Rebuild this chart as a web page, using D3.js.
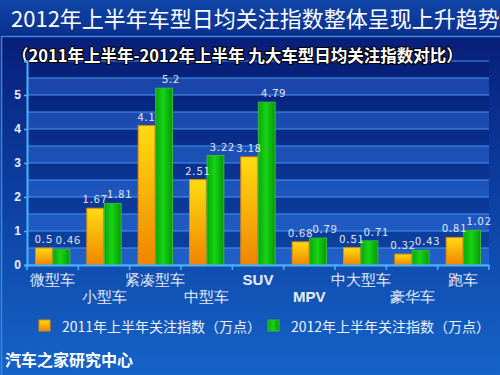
<!DOCTYPE html>
<html>
<head>
<meta charset="utf-8">
<script src="https://cdn.jsdelivr.net/npm/d3@7"></script>
<style>
    body { margin: 0; padding: 0; background: #0c3594; }
    svg { display: block; font-family: "Noto Sans CJK SC", "Noto Sans", sans-serif; }
</style>
</head>
<body>
<div id="chart"></div>
<script>
// chart data
var categories = ["微型车", "小型车", "紧凑型车", "中型车", "SUV", "MPV", "中大型车", "豪华车", "跑车"];
var values2011 = [0.5, 1.67, 4.1, 2.51, 3.18, 0.68, 0.51, 0.32, 0.81];
var values2012 = [0.46, 1.81, 5.2, 3.22, 4.79, 0.79, 0.71, 0.43, 1.02];
var seriesNames = ["2011年上半年关注指数（万点）", "2012年上半年关注指数（万点）"];
var yTicks = [0, 1, 2, 3, 4, 5];
var gridValues = d3.range(0, 6.5, 0.5);

BarChart = function(_parentElement) {
    this.parentElement = _parentElement;
    this.initVis();
}

BarChart.prototype.initVis = function() {
    var vis = this;

    vis.width = 500;
    vis.height = 375;
    vis.plot = { left: 27, right: 489, top: 61, bottom: 265 };

    vis.svg = d3.select("#" + vis.parentElement).append("svg")
        .attr("width", vis.width)
        .attr("height", vis.height);

    var defs = vis.svg.append("defs");

    var bg = defs.append("linearGradient").attr("id", "bg")
        .attr("x1", 0).attr("y1", 0).attr("x2", 0).attr("y2", 1);
    bg.append("stop").attr("offset", "0%").attr("stop-color", "#071770");
    bg.append("stop").attr("offset", "45%").attr("stop-color", "#0b3a9c");
    bg.append("stop").attr("offset", "100%").attr("stop-color", "#1664c8");

    var head = defs.append("linearGradient").attr("id", "head")
        .attr("x1", 0).attr("y1", 0).attr("x2", 0).attr("y2", 1);
    head.append("stop").attr("offset", "0%").attr("stop-color", "#1046a8");
    head.append("stop").attr("offset", "100%").attr("stop-color", "#0a2f8c");

    var orange = defs.append("linearGradient").attr("id", "orange")
        .attr("x1", 0).attr("y1", 0).attr("x2", 0).attr("y2", 1);
    orange.append("stop").attr("offset", "0%").attr("stop-color", "#ffdc10");
    orange.append("stop").attr("offset", "100%").attr("stop-color", "#f08400");

    var green = defs.append("linearGradient").attr("id", "green")
        .attr("x1", 0).attr("y1", 0).attr("x2", 1).attr("y2", 0);
    green.append("stop").attr("offset", "0%").attr("stop-color", "#08a808");
    green.append("stop").attr("offset", "45%").attr("stop-color", "#16d416");
    green.append("stop").attr("offset", "100%").attr("stop-color", "#069806");

    // backgrounds
    vis.svg.append("rect")
        .attr("width", vis.width).attr("height", vis.height)
        .attr("fill", "url(#bg)");
    vis.svg.append("rect")
        .attr("width", vis.width).attr("height", 36)
        .attr("fill", "url(#head)");
    vis.svg.append("path")
        .attr("d", "M1.5,375 V36.5 H500")
        .attr("fill", "none")
        .attr("stroke", "#3a86e0")
        .attr("stroke-width", 1.5);

    // scales
    vis.x = d3.scaleBand()
        .domain(categories)
        .range([vis.plot.left, vis.plot.right]);
    vis.xSub = d3.scaleBand()
        .domain([0, 1])
        .range([8.5, vis.x.bandwidth() - 8.5])
        .paddingInner(0.04);
    vis.y = d3.scaleLinear()
        .domain([0, 6])
        .range([vis.plot.bottom, vis.plot.top]);

    // alternating bands and grid lines
    var bands = d3.range(0, 6, 0.5);
    vis.svg.append("g").selectAll("rect")
        .data(bands)
        .enter().append("rect")
        .attr("x", vis.plot.left)
        .attr("width", vis.plot.right - vis.plot.left)
        .attr("y", function(d) { return vis.y(d + 0.5); })
        .attr("height", function(d) { return vis.y(d) - vis.y(d + 0.5); })
        .attr("fill", function(d) { return d % 1 === 0 ? "rgba(70,140,255,0.3)" : "rgba(0,10,80,0.14)"; });

    vis.svg.append("g").selectAll("line")
        .data(gridValues)
        .enter().append("line")
        .attr("x1", vis.plot.left)
        .attr("x2", vis.plot.right)
        .attr("y1", function(d) { return vis.y(d); })
        .attr("y2", function(d) { return vis.y(d); })
        .attr("stroke", "#4a94ec")
        .attr("stroke-width", 1.2);

    // titles
    vis.svg.append("text")
        .attr("x", 11)
        .attr("y", 27)
        .attr("fill", "#ffffff")
        .style("font-size", "22px")
        .text("2012年上半年车型日均关注指数整体呈现上升趋势");

    vis.svg.append("text")
        .attr("x", 12)
        .attr("y", 62)
        .attr("fill", "#ffffff")
        .attr("stroke", "#000000")
        .attr("stroke-width", 2.2)
        .attr("paint-order", "stroke")
        .style("font-size", "16.5px")
        .style("font-weight", "bold")
        .text("（2011年上半年-2012年上半年 九大车型日均关注指数对比）");

    vis.updateVis();
}

BarChart.prototype.updateVis = function() {
    var vis = this;

    var rows = categories.map(function(c, i) {
        return { key: c, values: [values2011[i], values2012[i]] };
    });

    var groups = vis.svg.append("g").selectAll("g")
        .data(rows)
        .enter().append("g")
        .attr("transform", function(d) { return "translate(" + vis.x(d.key) + ",0)"; });

    var fills = ["url(#orange)", "url(#green)"];
    var strokes = ["#e08a10", "#3cb83c"];

    groups.selectAll("rect")
        .data(function(d) { return d.values; })
        .enter().append("rect")
        .attr("x", function(d, i) { return vis.xSub(i); })
        .attr("width", vis.xSub.bandwidth())
        .attr("y", function(d) { return vis.y(d); })
        .attr("height", function(d) { return vis.y(0) - vis.y(d); })
        .attr("fill", function(d, i) { return fills[i]; })
        .attr("stroke", function(d, i) { return strokes[i]; })
        .attr("stroke-width", 1);

    // value labels
    groups.selectAll("text")
        .data(function(d) { return d.values; })
        .enter().append("text")
        .attr("x", function(d, i) { return vis.xSub(i) + vis.xSub.bandwidth() / 2 + (i === 1 ? 7 : 0); })
        .attr("y", function(d) { return vis.y(d) - 5; })
        .attr("text-anchor", "middle")
        .attr("fill", "#e4e8f4")
        .style("font-size", "11px")
        .style("letter-spacing", "1px")
        .text(function(d) { return d; });

    // y axis
    var yAxis = d3.axisLeft(vis.y)
        .tickValues(yTicks)
        .tickSize(3)
        .tickFormat(d3.format("d"));
    var yg = vis.svg.append("g")
        .attr("transform", "translate(" + vis.plot.left + ",0)")
        .call(yAxis);
    yg.select(".domain").attr("stroke", "#48b4ff").attr("stroke-width", 2);
    yg.selectAll(".tick line").attr("stroke", "#48b4ff").attr("stroke-width", 1.5);
    yg.selectAll(".tick text")
        .attr("fill", "#eef2ff")
        .attr("x", -6)
        .style("font-size", "12px")
        .style("font-weight", "bold")
        .style("font-family", "'Liberation Sans', Arial, sans-serif");

    // x axis with staggered labels
    var xAxis = d3.axisBottom(vis.x).tickSize(0).tickPadding(0);
    var xg = vis.svg.append("g")
        .attr("transform", "translate(0," + vis.plot.bottom + ")")
        .call(xAxis);
    xg.select(".domain").attr("stroke", "#48b4ff").attr("stroke-width", 2);
    xg.selectAll(".tick text")
        .attr("dy", 0)
        .attr("y", function(d, i) { return i % 2 === 0 ? 20 : 37; })
        .attr("fill", "#e8ecf6")
        .style("font-size", "15px")
        .style("font-weight", function(d) { return /^[A-Z]+$/.test(d) ? "bold" : "normal"; });

    xg.selectAll(".sep")
        .data(d3.range(categories.length + 1))
        .enter().append("line")
        .attr("class", "sep")
        .attr("x1", function(d) { return vis.plot.left + d * vis.x.step(); })
        .attr("x2", function(d) { return vis.plot.left + d * vis.x.step(); })
        .attr("y1", 0)
        .attr("y2", 5)
        .attr("stroke", "#48b4ff")
        .attr("stroke-width", 1.5);

    // legend
    var legendX = [39, 268];
    var legend = vis.svg.append("g").selectAll("g")
        .data(seriesNames)
        .enter().append("g")
        .attr("transform", function(d, i) { return "translate(" + legendX[i] + ",320)"; });
    legend.append("rect")
        .attr("width", 11)
        .attr("height", 11)
        .attr("fill", function(d, i) { return fills[i]; })
        .attr("stroke", function(d, i) { return strokes[i]; });
    legend.append("text")
        .attr("x", 23)
        .attr("y", 12)
        .attr("fill", "#eef2fa")
        .style("font-size", "14px")
        .text(function(d) { return d; });

    // source
    vis.svg.append("text")
        .attr("x", 5)
        .attr("y", 366)
        .attr("fill", "#ffffff")
        .style("font-size", "16px")
        .style("font-weight", "bold")
        .text("汽车之家研究中心");
}

var chart = new BarChart("chart");
</script>
</body>
</html>
